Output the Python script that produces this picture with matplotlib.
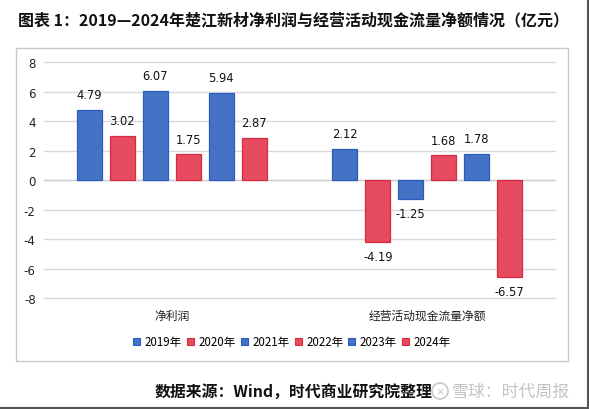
import matplotlib
matplotlib.use("Agg")
import matplotlib.pyplot as plt
from matplotlib.patches import Rectangle, Ellipse
from matplotlib.lines import Line2D
import numpy as np

plt.rcParams['font.family'] = ['Noto Sans CJK SC', 'DejaVu Sans']

categories = ["净利润", "经营活动现金流量净额"]
series_names = ["2019年", "2020年", "2021年", "2022年", "2023年", "2024年"]
values = {
    "2019年": [4.79, 2.12],
    "2020年": [3.02, -4.19],
    "2021年": [6.07, -1.25],
    "2022年": [1.75, 1.68],
    "2023年": [5.94, 1.78],
    "2024年": [2.87, -6.57],
}
yticks = [8, 6, 4, 2, 0, -2, -4, -6, -8]
title = "图表 1：2019—2024年楚江新材净利润与经营活动现金流量净额情况（亿元）"
source = "数据来源：Wind，时代商业研究院整理"
watermark = "雪球：时代周报"

blue_fill, blue_edge = "#4472C4", "#2A5CC0"
red_fill, red_edge = "#E64B5F", "#D62B43"
fills = [blue_fill, red_fill] * 3
edges = [blue_edge, red_edge] * 3

W, H = 589, 410
fig = plt.figure(figsize=(W / 100, H / 100), dpi=100)
fig.patch.set_facecolor("white")

# chart box
fig.patches.append(Rectangle((16 / W, 1 - 362 / H), (568 - 16) / W, (362 - 49) / H,
                             transform=fig.transFigure, fill=False,
                             edgecolor="#C8C8C8", linewidth=1.0))
# outer frame (right & bottom)
fig.lines.append(Line2D([1 - 1.5 / W, 1 - 1.5 / W], [0, 1], transform=fig.transFigure,
                        color="#555555", linewidth=1.5))
fig.lines.append(Line2D([0, 1], [1.5 / H, 1.5 / H], transform=fig.transFigure,
                        color="#555555", linewidth=1.5))

ax = fig.add_axes([44 / W, 1 - 299 / H, (555 - 44) / W, (299 - 63.3) / H])
ax.set_xlim(-0.5, 1.5)
ax.set_ylim(-8, 8)

step = 33 / 255.5
bw = 25 / 255.5
x = np.arange(len(categories))
unit = (299 - 63.3) / 16.0  # px per data unit
for i, name in enumerate(series_names):
    off = (i - 2.5) * step
    vals = values[name]
    ax.bar(x + off, vals, width=bw, color=fills[i], edgecolor=edges[i],
           linewidth=0.9, label=name, zorder=3)
    for xi, v in zip(x + off, vals):
        dy = 15 / unit
        ax.text(xi, v + dy if v >= 0 else v - dy, f"{v:.2f}", ha="center", va="center",
                fontsize=8.3, color="#111111", family=['DejaVu Sans'], zorder=4)

ax.set_yticks(yticks)
ax.set_yticklabels([str(t) for t in yticks], fontsize=8.5, color="#222222",
                   family=['DejaVu Sans'])
for t in yticks:
    ax.axhline(t, color="#D9D9D9", linewidth=1.0, zorder=0, clip_on=False)
ax.axhline(0, color="#CFCFCF", linewidth=1.0, zorder=1)
ax.set_xticks([])
for s in ax.spines.values():
    s.set_visible(False)
ax.tick_params(axis="y", length=0, pad=6)

for xi, c in zip(x, categories):
    ax.text(xi, -8 - 17 / unit, c, ha="center", va="center", fontsize=8.5, color="#222222")

handles = [Rectangle((0, 0), 1, 1, facecolor=fills[i], edgecolor=edges[i], linewidth=0.8)
           for i in range(6)]
fig.legend(handles, series_names, loc="center", bbox_to_anchor=(292 / W, 1 - 343 / H),
           ncol=6, frameon=False, fontsize=8.3, handlelength=0.6, handleheight=0.6,
           handletextpad=0.4, columnspacing=0.45, borderpad=0, borderaxespad=0)

fig.text(18 / W, 1 - 20 / H, title, ha="left", va="center", fontsize=11.5,
         fontweight="bold", color="#111111")
fig.text(293.5 / W, 1 - 392 / H, source, ha="center", va="center", fontsize=11.4,
         fontweight="bold", color="#111111")
fig.text(511 / W, 1 - 392 / H, watermark, ha="center", va="center", fontsize=12.2,
         color="#BDBDBD", alpha=0.9)
fig.patches.append(Ellipse((440 / W, 1 - 392 / H), 16 / W, 16 / H, transform=fig.transFigure,
                           fill=False, edgecolor="#C8C8C8", linewidth=1.2))
fig.text(440 / W, 1 - 392 / H, "×", ha="center", va="center", fontsize=8,
         color="#C8C8C8", family=['DejaVu Sans'])

fig.savefig("out.png", dpi=100, facecolor="white")
